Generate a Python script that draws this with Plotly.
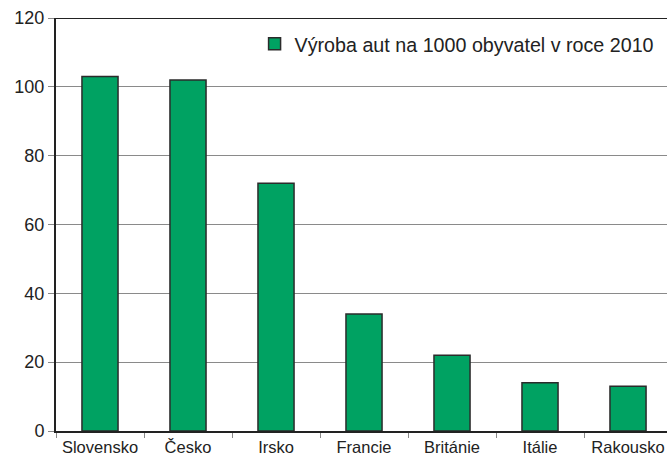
import plotly.graph_objects as go

categories = ["Slovensko", "Česko", "Irsko", "Francie", "Británie", "Itálie", "Rakousko"]
values = [103, 102, 72, 34, 22, 14, 13]
series_name = "Výroba aut na 1000 obyvatel v roce 2010"
y_ticks = [0, 20, 40, 60, 80, 100, 120]

fig = go.Figure()
fig.add_trace(go.Bar(
    x=categories, y=values, name=series_name,
    marker=dict(color="#00A262", line=dict(color="#2b2b2b", width=1.5)),
    width=0.41, showlegend=True,
))

fig.update_layout(
    width=667, height=462,
    margin=dict(l=56, r=0, t=18, b=31),
    paper_bgcolor="white", plot_bgcolor="white",
    font=dict(family="Liberation Sans, Arial, sans-serif", color="#222222", size=17),
    showlegend=True,
    legend=dict(x=0.325, y=0.937, xanchor="left", yanchor="middle",
                bgcolor="rgba(0,0,0,0)", font=dict(size=19.7),
                itemwidth=30),
)
fig.update_xaxes(
    type="category", range=[-0.5, 6.443], automargin=False,
    showline=True, linecolor="#222222", linewidth=2,
    ticks="outside", tickson="boundaries", ticklen=5, tickcolor="#888888",
    showgrid=False, tickfont=dict(size=16.5),
)
fig.update_yaxes(
    range=[0, 120], tickvals=y_ticks, automargin=False,
    showline=True, linecolor="#222222", linewidth=2,
    ticks="outside", ticklen=6, tickcolor="#888888",
    showgrid=True, gridcolor="#8a8a8a", gridwidth=1,
    zeroline=False, tickfont=dict(size=18),
)
# top border line of the plot area
fig.add_shape(type="line", xref="paper", yref="y", x0=0, x1=1, y0=120, y1=120,
              line=dict(color="#222222", width=2))

fig.write_html("out.html",
               config={"displayModeBar": False},
               post_script="document.body.style.margin='0';document.body.style.overflow='hidden';")
